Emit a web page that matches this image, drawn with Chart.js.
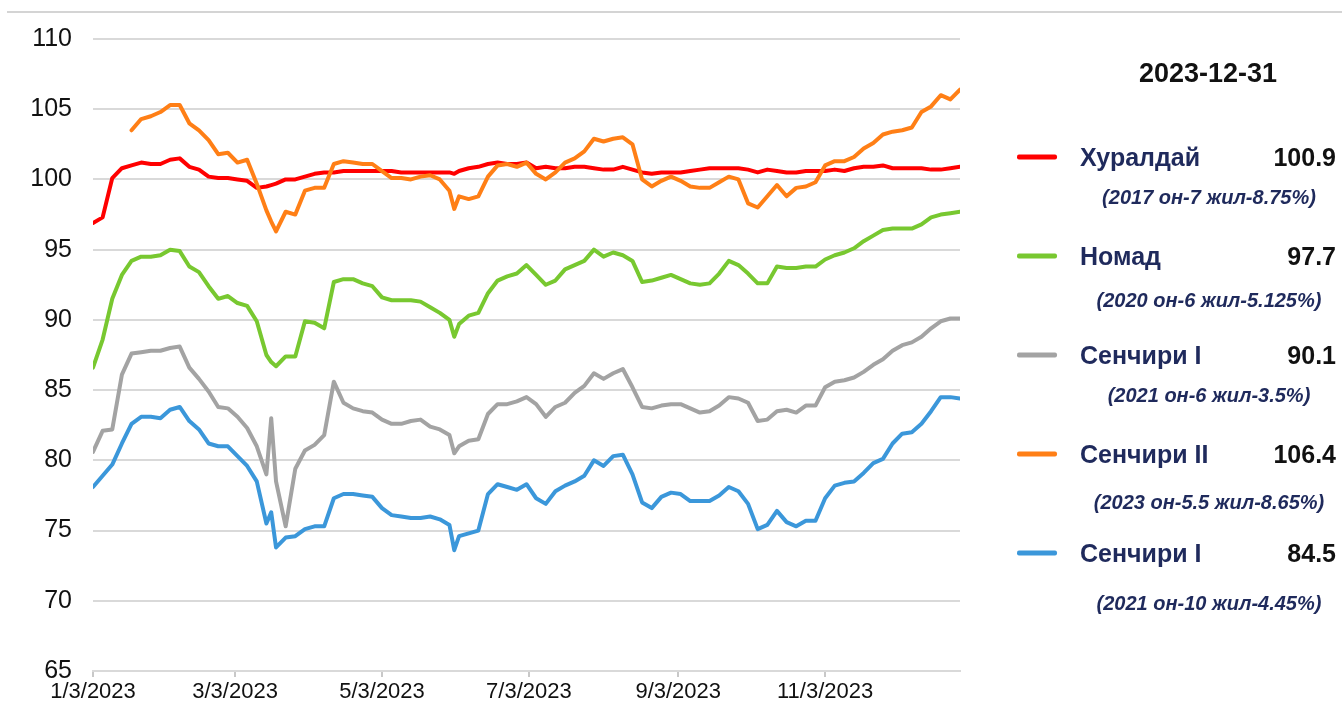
<!DOCTYPE html>
<html>
<head>
<meta charset="utf-8">
<title>Бондын ханш 2023</title>
<script src="https://cdn.jsdelivr.net/npm/chart.js@4.4.0/dist/chart.umd.min.js"></script>
<style>
  body { margin: 0; background: #fff; font-family: "Liberation Sans", Arial, sans-serif; }
  #wrap { position: relative; width: 1342px; height: 707px; overflow: hidden; }
  #topline { position: absolute; left: 7px; right: 0; top: 11px; height: 2px; background: #d4d4d4; }
  #chartBox { position: absolute; left: 0; top: 0; width: 1342px; height: 707px; }
  .lg { position: absolute; transform: translateY(-50%); white-space: nowrap; font-weight: bold; }
  .date { font-size: 27px; color: #111; }
  .name { font-size: 25px; color: #1f2a5c; }
  .val { font-size: 25px; color: #111; }
  .note { font-size: 20px; font-style: italic; color: #1f2a5c; }
  .sw { position: absolute; width: 40px; height: 5px; border-radius: 2px; transform: translateY(-50%); }
</style>
</head>
<body>
<div id="wrap">
  <div id="topline"></div>
  <div id="chartBox"><canvas id="bondChart"></canvas></div>
</div>
<script>
// days counted from 3 Jan 2023
const days = [
  0, 4, 8, 12, 16, 20, 24, 28, 32, 36,
  40, 44, 48, 52, 56, 60, 64, 68, 72, 74,
  76, 80, 84, 88, 92, 96, 100, 104, 108, 112,
  116, 120, 124, 128, 132, 136, 140, 144, 148, 150,
  152, 156, 160, 164, 168, 172, 176, 180, 184, 188,
  192, 196, 200, 204, 208, 212, 216, 220, 224, 228,
  232, 236, 240, 244, 248, 252, 256, 260, 264, 268,
  272, 276, 280, 284, 288, 292, 296, 300, 304, 308,
  312, 316, 320, 324, 328, 332, 336, 340, 344, 348,
  352, 356, 360
];

const tickDays = [0, 59, 120, 181, 243, 304];
const tickLabels = ["1/3/2023", "3/3/2023", "5/3/2023", "7/3/2023", "9/3/2023", "11/3/2023"];

const asOfDate = "2023-12-31";
const seriesNames = ["Хуралдай", "Номад", "Сенчири I", "Сенчири II", "Сенчири I"];
const latestValues = ["100.9", "97.7", "90.1", "106.4", "84.5"];
const bondNotes = [
  "(2017 он-7 жил-8.75%)",
  "(2020 он-6 жил-5.125%)",
  "(2021 он-6 жил-3.5%)",
  "(2023 он-5.5 жил-8.65%)",
  "(2021 он-10 жил-4.45%)"
];

const huraldai = [
  96.9, 97.3, 100.1, 100.8, 101.0, 101.2, 101.1, 101.1, 101.4, 101.5,
  100.9, 100.7, 100.2, 100.1, 100.1, 100.0, 99.9, 99.4, 99.5, 99.6,
  99.7, 100.0, 100.0, 100.2, 100.4, 100.5, 100.5, 100.6, 100.6, 100.6,
  100.6, 100.6, 100.6, 100.5, 100.5, 100.5, 100.5, 100.5, 100.5, 100.4,
  100.6, 100.8, 100.9, 101.1, 101.2, 101.1, 101.1, 101.2, 100.8, 100.9,
  100.8, 100.8, 100.9, 100.9, 100.8, 100.7, 100.7, 100.9, 100.7, 100.5,
  100.4, 100.5, 100.5, 100.5, 100.6, 100.7, 100.8, 100.8, 100.8, 100.8,
  100.7, 100.5, 100.7, 100.6, 100.5, 100.5, 100.6, 100.6, 100.6, 100.7,
  100.6, 100.8, 100.9, 100.9, 101.0, 100.8, 100.8, 100.8, 100.8, 100.7,
  100.7, 100.8, 100.9
];

const nomad = [
  86.6, 88.6, 91.5, 93.2, 94.2, 94.5, 94.5, 94.6, 95.0, 94.9,
  93.8, 93.4, 92.4, 91.5, 91.7, 91.2, 91.0, 89.9, 87.5, 87.0,
  86.7, 87.4, 87.4, 89.9, 89.8, 89.4, 92.7, 92.9, 92.9, 92.6,
  92.4, 91.6, 91.4, 91.4, 91.4, 91.3, 90.9, 90.5, 90.0, 88.8,
  89.7, 90.3, 90.5, 91.9, 92.8, 93.1, 93.3, 93.9, 93.2, 92.5,
  92.8, 93.6, 93.9, 94.2, 95.0, 94.5, 94.8, 94.6, 94.2, 92.7,
  92.8, 93.0, 93.2, 92.9, 92.6, 92.5, 92.6, 93.3, 94.2, 93.9,
  93.3, 92.6, 92.6, 93.8, 93.7, 93.7, 93.8, 93.8, 94.3, 94.6,
  94.8, 95.1, 95.6, 96.0, 96.4, 96.5, 96.5, 96.5, 96.8, 97.3,
  97.5, 97.6, 97.7
];

const century1a = [
  80.6, 82.1, 82.2, 86.1, 87.6, 87.7, 87.8, 87.8, 88.0, 88.1,
  86.6, 85.8, 84.9, 83.8, 83.7, 83.1, 82.3, 81.0, 79.0, 83.0,
  78.5, 75.3, 79.4, 80.7, 81.1, 81.8, 85.6, 84.1, 83.7, 83.5,
  83.4, 82.9, 82.6, 82.6, 82.8, 82.9, 82.4, 82.2, 81.8, 80.5,
  81.0, 81.4, 81.5, 83.3, 84.0, 84.0, 84.2, 84.5, 84.0, 83.1,
  83.8, 84.1, 84.8, 85.3, 86.2, 85.8, 86.2, 86.5, 85.2, 83.8,
  83.7, 83.9, 84.0, 84.0, 83.7, 83.4, 83.5, 83.9, 84.5, 84.4,
  84.1, 82.8, 82.9, 83.5, 83.6, 83.4, 83.9, 83.9, 85.2, 85.6,
  85.7, 85.9, 86.3, 86.8, 87.2, 87.8, 88.2, 88.4, 88.8, 89.4,
  89.9, 90.1, 90.1
];

const century2 = [
  null, null, null, null, 103.5, 104.3, 104.5, 104.8, 105.3, 105.3,
  104.0, 103.5, 102.8, 101.8, 101.9, 101.2, 101.4, 99.7, 97.8, 97.0,
  96.3, 97.7, 97.5, 99.2, 99.4, 99.4, 101.1, 101.3, 101.2, 101.1,
  101.1, 100.6, 100.1, 100.1, 100.0, 100.2, 100.3, 100.0, 99.2, 97.9,
  98.8, 98.6, 98.8, 100.2, 101.0, 101.1, 100.9, 101.2, 100.4, 100.0,
  100.5, 101.2, 101.5, 102.0, 102.9, 102.7, 102.9, 103.0, 102.5, 100.0,
  99.5, 99.9, 100.2, 99.9, 99.5, 99.4, 99.4, 99.8, 100.2, 100.0,
  98.3, 98.0, 98.8, 99.6, 98.8, 99.4, 99.5, 99.8, 101.0, 101.3,
  101.3, 101.6, 102.2, 102.6, 103.2, 103.4, 103.5, 103.7, 104.8, 105.2,
  106.0, 105.7, 106.4
];

const century1b = [
  78.1, 78.9, 79.7, 81.2, 82.6, 83.1, 83.1, 83.0, 83.6, 83.8,
  82.8, 82.2, 81.2, 81.0, 81.0, 80.3, 79.6, 78.5, 75.5, 76.3,
  73.8, 74.5, 74.6, 75.1, 75.3, 75.3, 77.3, 77.6, 77.6, 77.5,
  77.4, 76.6, 76.1, 76.0, 75.9, 75.9, 76.0, 75.8, 75.4, 73.6,
  74.6, 74.8, 75.0, 77.6, 78.3, 78.1, 77.9, 78.3, 77.3, 76.9,
  77.8, 78.2, 78.5, 78.9, 80.0, 79.6, 80.3, 80.4, 79.0, 77.0,
  76.6, 77.4, 77.7, 77.6, 77.1, 77.1, 77.1, 77.5, 78.1, 77.8,
  76.9, 75.1, 75.4, 76.4, 75.6, 75.3, 75.7, 75.7, 77.3, 78.2,
  78.4, 78.5, 79.1, 79.8, 80.1, 81.2, 81.9, 82.0, 82.6, 83.5,
  84.5, 84.5, 84.4
];

const seriesValues = [huraldai, nomad, century1a, century2, century1b];
const seriesColors = ["#ff0000", "#78c830", "#a3a3a3", "#ff7f16", "#3b97da"];
const drawOrder = [1, 2, 3, 0, 4];

const yMin = 65, yMax = 110, yStep = 5;

const datasets = seriesValues.map((vals, i) => ({
    label: seriesNames[i],
    data: days.map((d, j) => ({ x: d, y: vals[j] })),
    borderColor: seriesColors[i],
    backgroundColor: seriesColors[i],
    borderWidth: 4,
    borderCapStyle: "round",
    borderJoinStyle: "round",
    pointRadius: 0,
    tension: 0,
    order: drawOrder[i]
}));

new Chart(document.getElementById("bondChart"), {
    type: "line",
    data: { datasets: datasets },
    options: {
        responsive: true,
        maintainAspectRatio: false,
        animation: false,
        layout: { padding: { top: 39, right: 382, bottom: 0, left: 0 } },
        plugins: {
            legend: { display: false },
            tooltip: { enabled: false }
        },
        scales: {
            x: {
                type: "linear",
                min: 0,
                max: 360,
                afterBuildTicks: scale => {
                    scale.ticks = tickDays.map(v => ({ value: v }));
                },
                afterFit: scale => { scale.height = 35; },
                ticks: {
                    autoSkip: false,
                    maxRotation: 0,
                    padding: 2,
                    color: "#111",
                    font: { family: "'Liberation Sans', Arial, sans-serif", size: 22 },
                    callback: (value, index) => tickLabels[index]
                },
                grid: { drawOnChartArea: false, drawTicks: true, tickLength: 6, color: "#c8c8c8", lineWidth: 2 },
                border: { display: true, color: "#d9d9d9", width: 2 }
            },
            y: {
                min: yMin,
                max: yMax,
                afterFit: scale => { scale.width = 93; },
                ticks: {
                    stepSize: yStep,
                    padding: 21,
                    color: "#111",
                    font: { family: "'Liberation Sans', Arial, sans-serif", size: 25 }
                },
                grid: { color: "#d9d9d9", lineWidth: 2, drawTicks: false },
                border: { display: false }
            }
        }
    }
});

// ---------------- LEGEND PANEL ----------------
const wrap = document.getElementById("wrap");

function addText(cls, text, css) {
    const el = document.createElement("div");
    el.className = "lg " + cls;
    el.textContent = text;
    Object.assign(el.style, css);
    wrap.appendChild(el);
    return el;
}

const dateEl = addText("date", asOfDate, { top: "73px", left: "1208px" });
dateEl.style.transform = "translate(-50%, -50%)";

const noteOffsets = [40, 44, 40, 48, 50];

seriesNames.forEach((name, i) => {
    const cy = 157 + i * 99;

    const sw = document.createElement("div");
    sw.className = "sw";
    sw.style.left = "1017px";
    sw.style.top = cy + "px";
    sw.style.background = seriesColors[i];
    wrap.appendChild(sw);

    addText("name", name, { top: cy + "px", left: "1080px" });
    addText("val", latestValues[i], { top: cy + "px", right: "6px" });

    const note = addText("note", bondNotes[i], { top: (cy + noteOffsets[i]) + "px", left: "1209px" });
    note.style.transform = "translate(-50%, -50%)";
});
</script>
</body>
</html>
